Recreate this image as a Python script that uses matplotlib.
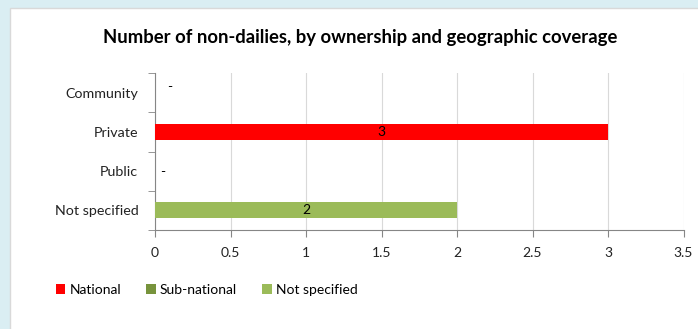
import numpy as np
import matplotlib.pyplot as plt
from matplotlib.patches import Rectangle

plt.rcParams['font.family'] = ['Lato', 'DejaVu Sans']

categories = ['Community', 'Private', 'Public', 'Not specified']
national = [0, 3, 0, 0]
sub_national = [0, 0, 0, 0]
not_specified = [0, 0, 0, 2]
xticks = [0, 0.5, 1, 1.5, 2, 2.5, 3, 3.5]

c_nat = '#FF0000'
c_sub = '#77933C'
c_ns = '#9BBB59'

fig = plt.figure(figsize=(6.98, 3.29), dpi=100)
fig.patch.set_facecolor('#DAEEF3')
# white chart area
bg = Rectangle((10/698, -0.01), 1, 1.01 - 8/329, transform=fig.transFigure,
               facecolor='white', edgecolor='#D9D9D9', lw=1)
bg.set_zorder(-10)
fig.add_artist(bg)

ax = fig.add_axes([155/698, 1 - 230/329, 528.5/698, 157/329])
ax.set_facecolor('none')
ax.set_zorder(1)

y_pos = np.arange(len(categories))
h = 0.41
nat = np.array(national, dtype=float)
sub = np.array(sub_national, dtype=float)
ns = np.array(not_specified, dtype=float)

b1 = ax.barh(y_pos, nat, h, color=c_nat, label='National', zorder=3)
b2 = ax.barh(y_pos, sub, h, left=nat, color=c_sub, label='Sub-national', zorder=3)
b3 = ax.barh(y_pos, ns, h, left=nat + sub, color=c_ns, label='Not specified', zorder=3)

# value labels
for i in range(len(categories)):
    total = nat[i] + sub[i] + ns[i]
    if nat[i] > 0:
        ax.text(nat[i] / 2, i, '%g' % nat[i], ha='center', va='center', fontsize=10, zorder=4)
    if ns[i] > 0:
        ax.text(nat[i] + sub[i] + ns[i] / 2, i, '%g' % ns[i], ha='center', va='center', fontsize=10, zorder=4)
    if total == 0:
        off = 0.1 if i == 0 else 0.05
        dy = -0.13 if i == 0 else 0.03
        ax.text(off, i + dy, '-', ha='center', va='center', fontsize=10, zorder=4)

ax.set_ylim(3.5, -0.5)
ax.set_xlim(0, 3.5)
ax.set_xticks(xticks)
ax.set_xticklabels(['%g' % v for v in xticks], fontsize=10, color='#222222')
ax.set_yticks(y_pos)
ax.set_yticklabels(categories, fontsize=10.3, color='#222222')
ax.set_yticks(np.arange(-0.5, 4, 1), minor=True)
ax.tick_params(axis='y', which='major', length=0, pad=12)
ax.tick_params(axis='y', which='minor', length=5, color='#868686', direction='out')
ax.tick_params(axis='x', length=5, color='#868686', direction='out', pad=7)

ax.grid(axis='x', color='#D9D9D9', lw=0.8, zorder=0)
for s in ['top', 'right']:
    ax.spines[s].set_visible(False)
ax.spines['left'].set_color('#868686')
ax.spines['bottom'].set_color('#868686')

fig.text(360/698, 1 - 38/329, 'Number of non-dailies, by ownership and geographic coverage',
         ha='center', va='center', fontsize=13.3, fontweight='bold')

fig.legend(handles=[b1, b2, b3], loc='center left', bbox_to_anchor=(50/698, 1 - 290/329),
           ncol=3, frameon=False, fontsize=10, handlelength=0.7, handleheight=0.7,
           handletextpad=0.3, columnspacing=1.8, borderaxespad=0)

plt.savefig('out.png', dpi=100)
